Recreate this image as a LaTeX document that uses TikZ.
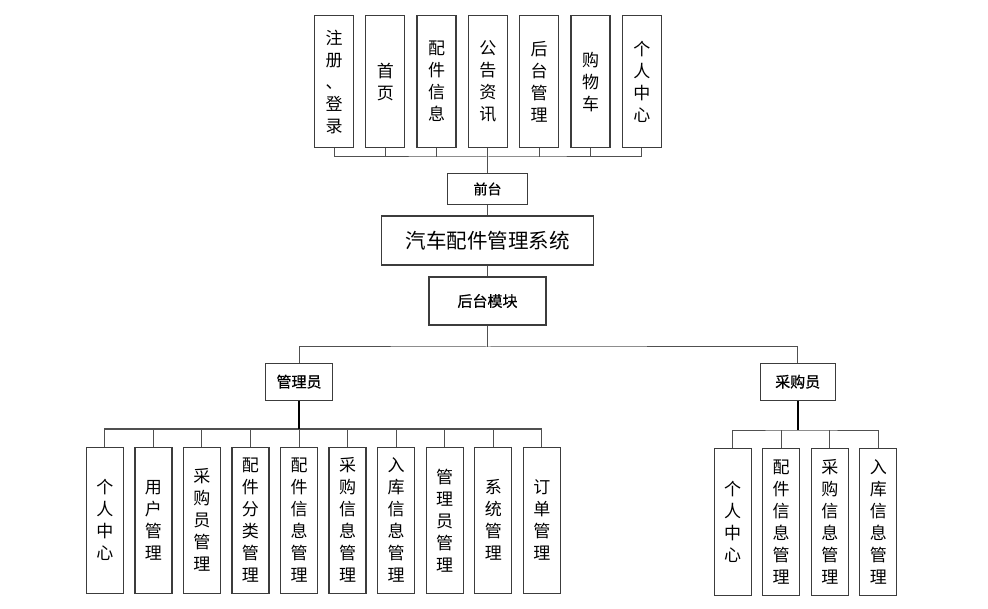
\documentclass[tikz,border=0pt]{standalone}
\usepackage{fontspec}
\setmainfont{Noto Sans CJK SC}
\newfontfamily\lblfont[FakeBold=0.8]{Noto Sans CJK SC}
\usepackage{tikz}
\usetikzlibrary{positioning}
\definecolor{BoxGray}{RGB}{60,60,60}
\definecolor{LineGray}{RGB}{80,80,80}

\begin{document}
\begin{tikzpicture}[x=1pt, y=-1pt,
	box/.style={draw=BoxGray, line width=1.3pt, fill=white, inner sep=0pt, align=center},
	vbox/.style={box, minimum width=37pt, font=\fontsize{17}{22}\selectfont},
	hbox/.style={box, font=\lblfont\fontsize{15}{18}\selectfont},
	link/.style={draw=LineGray, line width=1pt},
	trunk/.style={draw=black, line width=1.8pt}]
	\useasboundingbox (0,0) rectangle (988,609);
	% front end
	\foreach \t [count=\i] in {{注\\册\\、\\登\\录},{首\\页},{配\\件\\信\\息},{公\\告\\资\\讯},{后\\台\\管\\理},{购\\物\\车},{个\\人\\中\\心}}
		\node[vbox, minimum width=39pt, minimum height=132pt] (fr\i) at ({334+51.3*(\i-1)},81.7) {\t};
	\node[hbox, minimum width=80pt, minimum height=31pt, font=\lblfont\fontsize{14}{16}\selectfont] (qt) at (487.5,189) {前台};
	\node[box, minimum width=212pt, minimum height=49pt, font=\fontsize{20.5}{24}\selectfont] (sys) at (487.5,240.5) {汽车配件管理系统};
	\node[hbox, minimum width=117pt, minimum height=48pt] (ht) at (487.5,301) {后台模块};
	\node[hbox, minimum width=67pt, minimum height=37pt] (gly) at (299,381.7) {管理员};
	\node[hbox, minimum width=75pt, minimum height=37pt] (cgy) at (797.7,381.7) {采购员};
	% back end
	\foreach \t [count=\i] in {{个\\人\\中\\心},{用\\户\\管\\理},{采\\购\\员\\管\\理},{配\\件\\分\\类\\管\\理},{配\\件\\信\\息\\管\\理},{采\\购\\信\\息\\管\\理},{入\\库\\信\\息\\管\\理},{管\\理\\员\\管\\理},{系\\统\\管\\理},{订\\单\\管\\理}}
		\node[vbox, minimum height=146pt] (ga\i) at ({104.8+48.56*(\i-1)},520.3) {\t};
	\foreach \t [count=\i] in {{个\\人\\中\\心},{配\\件\\信\\息\\管\\理},{采\\购\\信\\息\\管\\理},{入\\库\\信\\息\\管\\理}}
		\node[vbox, minimum height=147pt] (cg\i) at ({732.7+48.53*(\i-1)},521.7) {\t};
	% connectors
	\coordinate (fbus) at (487.5,157);
	\draw[link] (fr1.south) |- (fbus) -| (fr7.south);
	\foreach \i in {2,...,6}
		\draw[link] (fr\i.south) -- (fr\i.south |- fbus);
	\draw[link] (fbus) -- (qt.north);
	\draw[link] (qt) -- (sys);
	\draw[link] (sys) -- (ht);
	\coordinate (mbus) at (487.5,347);
	\draw[link] (ht.south) -- (mbus);
	\draw[link] (gly.north) |- (mbus) -| (cgy.north);
	\coordinate (gbus) at (299,429);
	\draw[link] (ga1.north) |- (gbus) -| (ga10.north);
	\foreach \i in {2,...,9}
		\draw[link] (ga\i.north) -- (ga\i.north |- gbus);
	\draw[trunk] (gly.south) -- (gbus);
	\coordinate (cbus) at (797.7,430);
	\draw[link] (cg1.north) |- (cbus) -| (cg4.north);
	\foreach \i in {2,3}
		\draw[link] (cg\i.north) -- (cg\i.north |- cbus);
	\draw[trunk] (cgy.south) -- (cbus);
\end{tikzpicture}
\end{document}
